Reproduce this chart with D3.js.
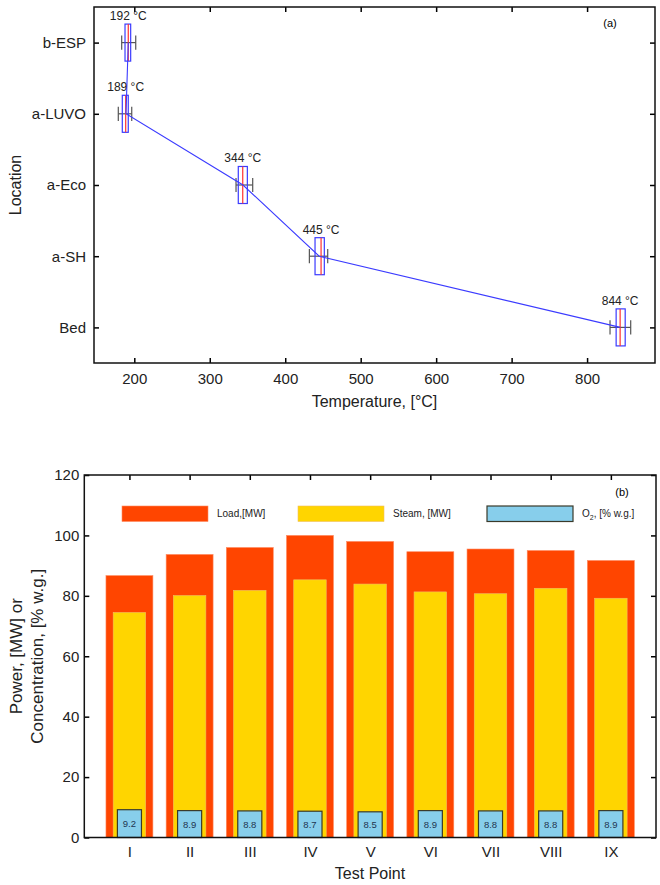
<!DOCTYPE html>
<html lang="en">
  <head>
    <meta charset="UTF-8">
    <title>Temperature profile and test points</title>
    <script src="https://d3js.org/d3.v7.min.js"></script>
    <style>
      body { margin: 0; background-color: white; }
      svg { font-family: "Liberation Sans", Arial, sans-serif; }
    </style>
  </head>
  <body>
    <script>
      // ---- (a) temperature by location ----
      const locations = ["Bed", "a-SH", "a-Eco", "a-LUVO", "b-ESP"];
      const tempMean = [844, 445, 344, 189, 192];
      const tempMedian = [843.8, 447.5, 343.7, 188.6, 192];
      const tempQ1 = [838.5, 439.5, 337.8, 184.1, 187.7];
      const tempQ3 = [850.5, 451.8, 349.8, 192, 195.2];
      const tempMin = [830.4, 432, 334.8, 178.8, 183.3];
      const tempMax = [857.8, 456.3, 356.9, 196.6, 201.9];
      const tempTicks = [200, 300, 400, 500, 600, 700, 800];

      // ---- (b) test points ----
      const testPoints = ["I", "II", "III", "IV", "V", "VI", "VII", "VIII", "IX"];
      const loadMW = [86.7, 93.7, 96, 100, 98, 94.6, 95.5, 95, 91.7];
      const steamMW = [74.5, 80.1, 81.8, 85.3, 83.9, 81.3, 80.7, 82.5, 79.2];
      const o2 = [9.2, 8.9, 8.8, 8.7, 8.5, 8.9, 8.8, 8.8, 8.9];
      const powerTicks = [0, 20, 40, 60, 80, 100, 120];

      const w = 660, h = 885;
      const svg = d3.select("body").append("svg")
                    .attr("width", w)
                    .attr("height", h);

      // ================= chart (a) =================
      const a = { left: 94, right: 655, top: 7, bottom: 363 };
      const tx = d3.scaleLinear().domain([146.6, 890]).range([a.left, a.right]);
      const ty = d3.scaleLinear().domain([0.5, 5.5]).range([a.bottom, a.top]);

      const gA = svg.append("g");

      gA.append("g")
        .attr("transform", `translate(0,${a.bottom})`)
        .call(d3.axisBottom(tx).tickValues(tempTicks).tickSizeInner(-5).tickSizeOuter(0).tickPadding(10))
        .call(g => g.select(".domain").remove())
        .selectAll("text").style("font-size", "15px").attr("fill", "#222");

      gA.append("g")
        .attr("transform", `translate(0,${a.top})`)
        .call(d3.axisTop(tx).tickValues(tempTicks).tickSizeInner(-5).tickSizeOuter(0).tickFormat(""))
        .call(g => g.select(".domain").remove());

      gA.append("g")
        .attr("transform", `translate(${a.left},0)`)
        .call(d3.axisLeft(ty).tickValues([1, 2, 3, 4, 5]).tickFormat(i => locations[i - 1])
                .tickSizeInner(-5).tickSizeOuter(0).tickPadding(8))
        .call(g => g.select(".domain").remove())
        .selectAll("text").style("font-size", "15px").attr("fill", "#222");

      gA.append("g")
        .attr("transform", `translate(${a.right},0)`)
        .call(d3.axisRight(ty).tickValues([1, 2, 3, 4, 5]).tickSizeInner(-5).tickSizeOuter(0).tickFormat(""))
        .call(g => g.select(".domain").remove());

      gA.selectAll(".tick line").attr("stroke-width", 1.5);

      gA.append("rect")
        .attr("x", a.left).attr("y", a.top)
        .attr("width", a.right - a.left).attr("height", a.bottom - a.top)
        .attr("fill", "none").attr("stroke", "#111").attr("stroke-width", 1.5);

      const idx = locations.map((d, i) => i);

      // whiskers
      const whisk = gA.append("g").attr("stroke", "#555").attr("stroke-width", 1.2);
      whisk.selectAll("line.w")
           .data(idx).enter().append("line")
           .attr("x1", i => tx(tempMin[i])).attr("x2", i => tx(tempMax[i]))
           .attr("y1", i => ty(i + 1)).attr("y2", i => ty(i + 1));
      whisk.selectAll("line.lo")
           .data(idx).enter().append("line")
           .attr("x1", i => tx(tempMin[i])).attr("x2", i => tx(tempMin[i]))
           .attr("y1", i => ty(i + 1.1)).attr("y2", i => ty(i + 0.9));
      whisk.selectAll("line.hi")
           .data(idx).enter().append("line")
           .attr("x1", i => tx(tempMax[i])).attr("x2", i => tx(tempMax[i]))
           .attr("y1", i => ty(i + 1.1)).attr("y2", i => ty(i + 0.9));

      // boxes
      gA.selectAll("rect.box")
        .data(idx).enter().append("rect")
        .attr("x", i => tx(tempQ1[i]))
        .attr("width", i => tx(tempQ3[i]) - tx(tempQ1[i]))
        .attr("y", i => ty(i + 1.26))
        .attr("height", ty(0) - ty(0.52))
        .attr("fill", "none").attr("stroke", "#3b3bff").attr("stroke-width", 1.2);

      gA.selectAll("line.med")
        .data(idx).enter().append("line")
        .attr("x1", i => tx(tempMedian[i])).attr("x2", i => tx(tempMedian[i]))
        .attr("y1", i => ty(i + 1.26)).attr("y2", i => ty(i + 0.74))
        .attr("stroke", "#ff3030").attr("stroke-width", 1.2);

      // mean line
      gA.append("path")
        .datum(idx)
        .attr("fill", "none").attr("stroke", "#3b3bff").attr("stroke-width", 1.1)
        .attr("d", d3.line().x(i => tx(tempMean[i])).y(i => ty(i + 1)));

      gA.selectAll("text.lab")
        .data(idx).enter().append("text")
        .attr("x", i => tx(tempMedian[i]))
        .attr("y", i => ty(i + 1.26) - 4)
        .attr("text-anchor", "middle")
        .style("font-size", "12px").attr("fill", "#222")
        .text(i => `${tempMean[i]} °C`);

      gA.append("text")
        .attr("x", 610).attr("y", 27)
        .attr("text-anchor", "middle")
        .style("font-size", "11px")
        .text("(a)");

      gA.append("text")
        .attr("transform", `translate(21,${(a.top + a.bottom) / 2}) rotate(-90)`)
        .attr("text-anchor", "middle")
        .style("font-size", "16px").attr("fill", "#222")
        .text("Location");

      gA.append("text")
        .attr("x", (a.left + a.right) / 2).attr("y", 407)
        .attr("text-anchor", "middle")
        .style("font-size", "16px").attr("fill", "#222")
        .text("Temperature, [°C]");

      // ================= chart (b) =================
      const b = { left: 84.3, right: 656, top: 475, bottom: 837.5 };
      const bx = d3.scaleLinear().domain([0.25, 9.75]).range([b.left, b.right]);
      const by = d3.scaleLinear().domain([0, 120]).range([b.bottom, b.top]);
      const ux = u => bx(u) - bx(0);

      const gB = svg.append("g");
      const pos = testPoints.map((d, i) => i + 1);

      gB.selectAll("rect.load")
        .data(loadMW).enter().append("rect")
        .attr("x", (d, i) => bx(i + 1 - 0.39)).attr("width", ux(0.78))
        .attr("y", d => by(d)).attr("height", d => by(0) - by(d))
        .attr("fill", "#ff4500").attr("stroke", "#ff8a60").attr("stroke-width", 0.6);

      gB.selectAll("rect.steam")
        .data(steamMW).enter().append("rect")
        .attr("x", (d, i) => bx(i + 1 - 0.27)).attr("width", ux(0.54))
        .attr("y", d => by(d)).attr("height", d => by(0) - by(d))
        .attr("fill", "#ffd500").attr("stroke", "#f0c060").attr("stroke-width", 0.6);

      gB.selectAll("rect.o2")
        .data(o2).enter().append("rect")
        .attr("x", (d, i) => bx(i + 1 - 0.2)).attr("width", ux(0.4))
        .attr("y", d => by(d)).attr("height", d => by(0) - by(d))
        .attr("fill", "#87ceeb").attr("stroke", "#3a3a2a").attr("stroke-width", 1.2);

      gB.selectAll("text.o2")
        .data(o2).enter().append("text")
        .attr("x", (d, i) => bx(i + 1))
        .attr("y", d => by(d / 2) + 3.5)
        .attr("text-anchor", "middle")
        .style("font-size", "9.5px").attr("fill", "#1f3550")
        .text(d => d.toFixed(1));

      gB.append("g")
        .attr("transform", `translate(0,${b.bottom})`)
        .call(d3.axisBottom(bx).tickValues(pos).tickFormat(i => testPoints[i - 1])
                .tickSize(0).tickPadding(9))
        .call(g => g.select(".domain").remove())
        .selectAll("text").style("font-size", "15px").attr("fill", "#222");

      gB.append("g")
        .attr("transform", `translate(0,${b.top})`)
        .call(d3.axisTop(bx).tickValues(pos).tickSizeInner(-5).tickSizeOuter(0).tickFormat(""))
        .call(g => g.select(".domain").remove());

      gB.append("g")
        .attr("transform", `translate(${b.left},0)`)
        .call(d3.axisLeft(by).tickValues(powerTicks).tickSizeInner(-5).tickSizeOuter(0).tickPadding(5))
        .call(g => g.select(".domain").remove())
        .selectAll("text").style("font-size", "15px").attr("fill", "#222");

      gB.append("g")
        .attr("transform", `translate(${b.right},0)`)
        .call(d3.axisRight(by).tickValues(powerTicks).tickSizeInner(-5).tickSizeOuter(0).tickFormat(""))
        .call(g => g.select(".domain").remove());

      gB.selectAll(".tick line").attr("stroke-width", 1.5);

      gB.append("rect")
        .attr("x", b.left).attr("y", b.top)
        .attr("width", b.right - b.left).attr("height", b.bottom - b.top)
        .attr("fill", "none").attr("stroke", "#111").attr("stroke-width", 1.5);

      // legend
      const legend = [
        { x: 122, fill: "#ff4500", stroke: "#ff8a60", label: "Load,[MW]" },
        { x: 298, fill: "#ffd500", stroke: "#f0c060", label: "Steam, [MW]" },
        { x: 487, fill: "#87ceeb", stroke: "#3a3a2a", label: null }
      ];
      const lg = gB.selectAll("g.leg").data(legend).enter().append("g");
      lg.append("rect")
        .attr("x", d => d.x).attr("y", 506)
        .attr("width", 86).attr("height", 15.5)
        .attr("fill", d => d.fill).attr("stroke", d => d.stroke)
        .attr("stroke-width", (d, i) => i === 2 ? 1.2 : 0.6);
      lg.filter(d => d.label).append("text")
        .attr("x", d => d.x + 95).attr("y", 517)
        .style("font-size", "10px").attr("fill", "#222")
        .text(d => d.label);
      const o2t = gB.append("text")
        .attr("x", 582).attr("y", 517)
        .style("font-size", "10px").attr("fill", "#222");
      o2t.append("tspan").text("O");
      o2t.append("tspan").attr("dy", 3).style("font-size", "7px").text("2");
      o2t.append("tspan").attr("dy", -3).text(", [% w.g.]");

      gB.append("text")
        .attr("x", 622).attr("y", 496)
        .attr("text-anchor", "middle")
        .style("font-size", "11px")
        .text("(b)");

      const ymid = (b.top + b.bottom) / 2;
      gB.append("text")
        .attr("transform", `translate(22,${ymid}) rotate(-90)`)
        .attr("text-anchor", "middle")
        .style("font-size", "17px").attr("fill", "#222")
        .text("Power, [MW] or");
      gB.append("text")
        .attr("transform", `translate(43,${ymid}) rotate(-90)`)
        .attr("text-anchor", "middle")
        .style("font-size", "17px").attr("fill", "#222")
        .text("Concentration, [% w.g.]");

      gB.append("text")
        .attr("x", 370).attr("y", 879)
        .attr("text-anchor", "middle")
        .style("font-size", "16px").attr("fill", "#222")
        .text("Test Point");
    </script>
  </body>
</html>
